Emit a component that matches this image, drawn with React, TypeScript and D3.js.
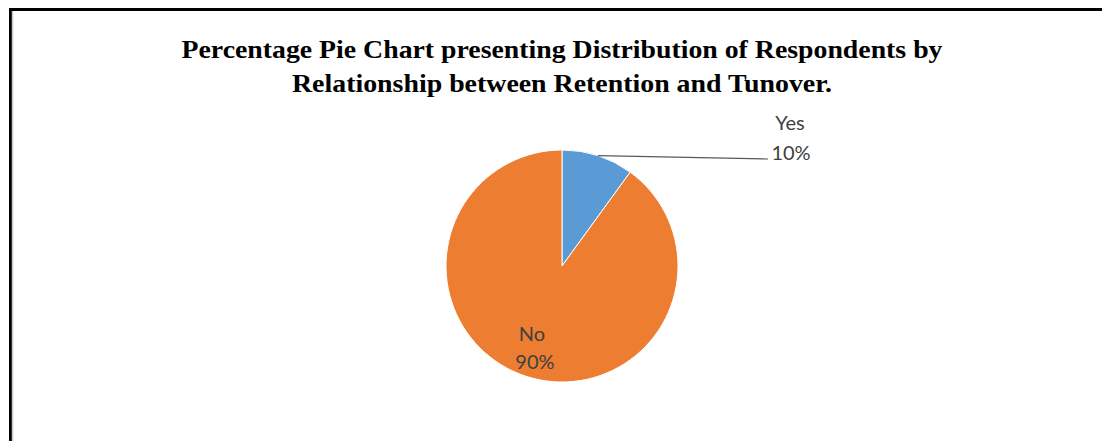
import React from "react";
import * as d3 from "d3";

const categories = ["Yes", "No"];
const values = [10, 90];
const colors = ["#5B9BD5", "#ED7D31"];
const titleLines = [
  "Percentage Pie Chart presenting Distribution of Respondents by",
  "Relationship between Retention and Tunover.",
];
const titleWidths = [761, 540];

export default function App() {
  const W = 1102, H = 441;
  const cx = 562, cy = 266, r = 116;
  const pie = d3.pie<number>().sort(null).value((d) => d)(values);
  const arc = d3.arc<d3.PieArcDatum<number>>().innerRadius(0).outerRadius(r);
  const total = d3.sum(values);
  const yesArc = pie[0];
  const yesMid = (yesArc.startAngle + yesArc.endAngle) / 2;
  const lead0 = [cx + Math.sin(yesMid) * r, cy - Math.cos(yesMid) * r];
  const noArc = pie[1];
  const noMid = (noArc.startAngle + noArc.endAngle) / 2;
  const noPos = [cx + Math.sin(noMid) * r * 0.67, cy - Math.cos(noMid) * r * 0.67];
  return (
    <svg width={W} height={H} style={{ position: "absolute", left: 0, top: 0 }}>
      <rect x={0} y={0} width={W} height={H} fill="#fff" />
      <line x1={9} y1={9.5} x2={W} y2={9.5} stroke="#000" strokeWidth={3} />
      <line x1={10.5} y1={8} x2={10.5} y2={H} stroke="#000" strokeWidth={3} />
      <line x1={12.5} y1={11} x2={12.5} y2={H} stroke="#c8c8c8" strokeWidth={1.5} />
      {titleLines.map((t, i) => (
        <text key={i} x={562} y={58 + i * 34} textAnchor="middle"
          textLength={titleWidths[i]} lengthAdjust="spacingAndGlyphs"
          fontFamily="'Liberation Serif', 'Times New Roman', serif" fontWeight="bold" fontSize={25} fill="#000">
          {t}
        </text>
      ))}
      <g transform={`translate(${cx},${cy})`}>
        {pie.map((d, i) => (
          <path key={i} d={arc(d) || ""} fill={colors[i]} stroke="#fff" strokeWidth={1} />
        ))}
      </g>
      <polyline points={`${lead0[0]},${lead0[1]} 768,159`} fill="none" stroke="#595959" strokeWidth={1.2} />
      <g fontFamily="Lato, 'Open Sans', sans-serif" fontSize={20} fill="#404040" textAnchor="middle">
        <text x={790} y={130}>{categories[0]}</text>
        <text x={791} y={160}>{`${Math.round((values[0] / total) * 100)}%`}</text>
        <text x={noPos[0] - 6} y={noPos[1] + 1}>{categories[1]}</text>
        <text x={noPos[0] - 3} y={noPos[1] + 29}>{`${Math.round((values[1] / total) * 100)}%`}</text>
      </g>
    </svg>
  );
}
